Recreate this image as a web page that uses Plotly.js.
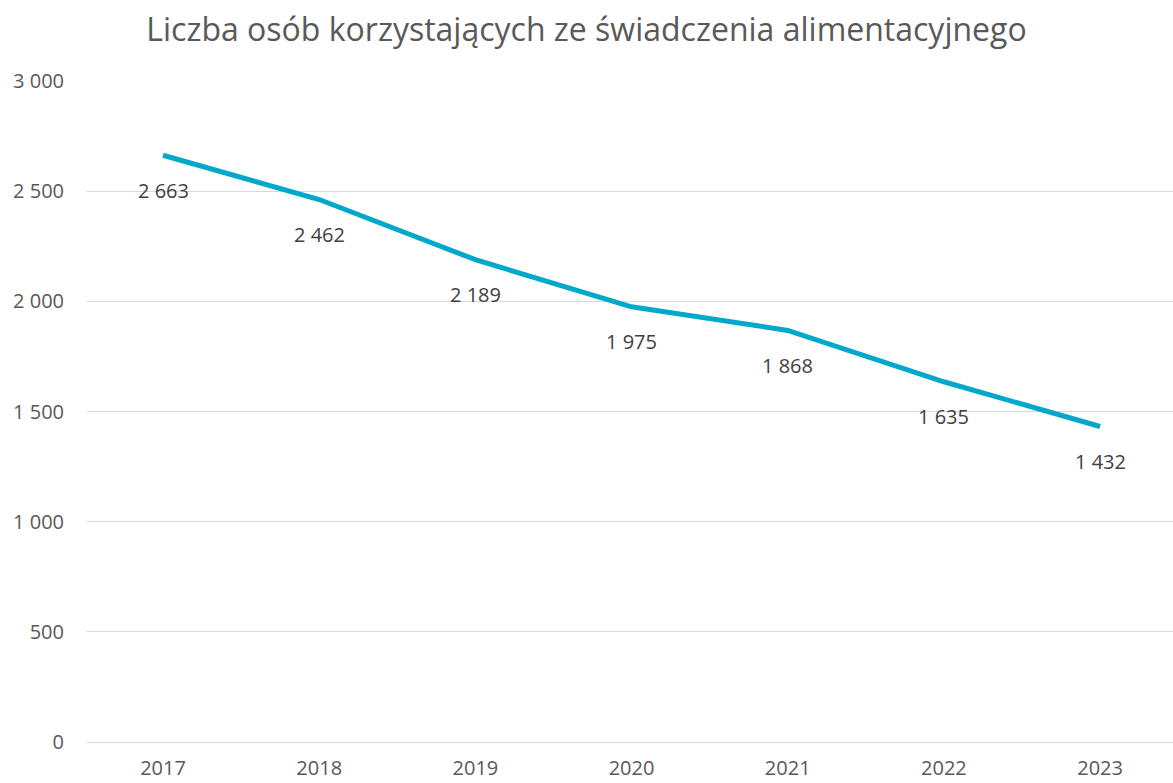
<!DOCTYPE html>
<html>
<head>
<meta charset="utf-8">
<script src="https://cdn.plot.ly/plotly-3.0.1.min.js"></script>
<style>html,body{margin:0;padding:0;background:#fff;}#chart{width:1173px;height:783px;}</style>
</head>
<body>
<div id="chart"></div>
<script>
const years = ['2017','2018','2019','2020','2021','2022','2023'];
const values = [2663, 2462, 2189, 1975, 1868, 1635, 1432];
const valueLabels = ['2 663','2 462','2 189','1 975','1 868','1 635','1 432'];
const yTickVals = [0, 500, 1000, 1500, 2000, 2500, 3000];
const yTickText = ['0','500','1 000','1 500','2 000','2 500','3 000'];

const trace = {
  x: years,
  y: values,
  type: 'scatter',
  mode: 'lines',
  line: {color: '#00A8CC', width: 5},
  hoverinfo: 'skip'
};

const annotations = years.map((yr, i) => ({
  x: i, y: values[i], xref: 'x', yref: 'y', text: valueLabels[i],
  showarrow: false, yshift: -35,
  font: {family: 'Open Sans, sans-serif', size: 20, color: '#404040'}
}));

const layout = {
  width: 1173, height: 783,
  margin: {l: 87, r: 0, t: 81, b: 41},
  paper_bgcolor: '#fff', plot_bgcolor: '#fff',
  title: {text: 'Liczba osób korzystających ze świadczenia alimentacyjnego',
    font: {family: 'Open Sans, sans-serif', size: 32, color: '#595959'},
    x: 0.5, xanchor: 'center', y: 0.962, yanchor: 'middle'},
  showlegend: false,
  xaxis: {
    type: 'category',
    range: [-0.487, 6.467],
    showgrid: false, zeroline: false, showline: false,
    ticks: '', ticklabelstandoff: 12,
    tickfont: {family: 'Open Sans, sans-serif', size: 20, color: '#595959'}
  },
  yaxis: {
    range: [0, 3000],
    tickvals: yTickVals, ticktext: yTickText,
    showgrid: true, gridcolor: '#D9D9D9', gridwidth: 1,
    zeroline: true, zerolinecolor: '#D9D9D9', zerolinewidth: 1,
    showline: false, ticks: '', ticklabelstandoff: 22,
    tickfont: {family: 'Open Sans, sans-serif', size: 20, color: '#595959'}
  },
  annotations: annotations
};

Plotly.newPlot('chart', [trace], layout, {displayModeBar: false, staticPlot: true});
</script>
</body>
</html>
